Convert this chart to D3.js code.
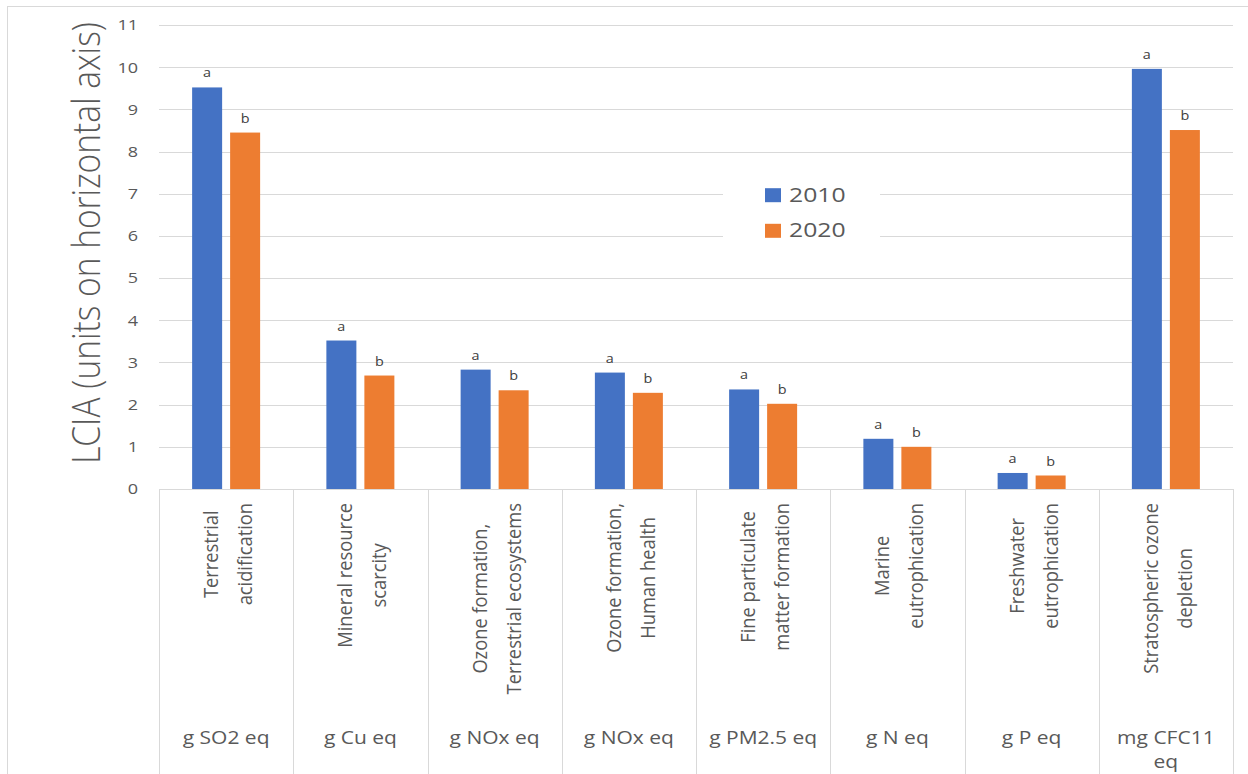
<!DOCTYPE html>
<html>
<head>
<meta charset="utf-8">
<script src="https://cdn.jsdelivr.net/npm/d3@7"></script>
<style>
  html, body { margin: 0; padding: 0; background: #fff; }
  svg { display: block; }
</style>
</head>
<body>
<svg id="chart" width="1248" height="774"></svg>
<script>
// Impact categories (two-line labels) and their reference units
const categories = [
  ["Terrestrial", "acidification"],
  ["Mineral resource", "scarcity"],
  ["Ozone formation,", "Terrestrial ecosystems"],
  ["Ozone formation,", "Human health"],
  ["Fine particulate", "matter formation"],
  ["Marine", "eutrophication"],
  ["Freshwater", "eutrophication"],
  ["Stratospheric ozone", "depletion"]
];
const units = ["g SO2 eq", "g Cu eq", "g NOx eq", "g NOx eq", "g PM2.5 eq", "g N eq", "g P eq", "mg CFC11 eq"];

const seriesNames = ["2010", "2020"];
const values2010 = [9.52, 3.52, 2.83, 2.76, 2.36, 1.19, 0.38, 9.96];
const values2020 = [8.45, 2.69, 2.34, 2.28, 2.02, 1.00, 0.32, 8.51];
const letters2010 = ["a", "a", "a", "a", "a", "a", "a", "a"];
const letters2020 = ["b", "b", "b", "b", "b", "b", "b", "b"];
const seriesColors = ["#4472C4", "#ED7D31"];

const yMax = 11;
const yTitle = "LCIA (units on horizontal axis)";

// ---- layout ----
const W = 1248, H = 774;
const plot = { left: 159, right: 1233, top: 25, bottom: 489 };
const font = "'Open Sans', 'Noto Sans', 'DejaVu Sans', sans-serif";
const textColor = "#595959";
const gridColor = "#d9d9d9";

const svg = d3.select("#chart");

// outer chart frame (continues past the visible edges)
svg.append("rect")
  .attr("x", 7.5).attr("y", 6.5)
  .attr("width", W + 20).attr("height", H + 20)
  .attr("fill", "#fff").attr("stroke", gridColor);

const x = d3.scaleBand()
  .domain(d3.range(categories.length))
  .range([plot.left, plot.right])
  .paddingInner(0).paddingOuter(0);

const barW = 30, barGap = 8;
const step = barW + barGap;
const innerPad = barGap / step;
const outerPad = (x.bandwidth() / step - 2 + innerPad) / 2;
const xs = d3.scaleBand()
  .domain(seriesNames)
  .range([0, x.bandwidth()])
  .paddingInner(innerPad).paddingOuter(outerPad);

const y = d3.scaleLinear().domain([0, yMax]).range([plot.bottom, plot.top]);

// horizontal gridlines
svg.append("g").selectAll("line")
  .data(y.ticks(yMax))
  .join("line")
  .attr("x1", plot.left).attr("x2", plot.right)
  .attr("y1", d => Math.round(y(d)) + 0.5).attr("y2", d => Math.round(y(d)) + 0.5)
  .attr("stroke", gridColor).attr("stroke-width", 1);

// vertical separators of the category table below the axis
svg.append("g").selectAll("line")
  .data(d3.range(categories.length + 1))
  .join("line")
  .attr("x1", i => Math.round(plot.left + i * x.bandwidth()) + 0.5)
  .attr("x2", i => Math.round(plot.left + i * x.bandwidth()) + 0.5)
  .attr("y1", plot.bottom).attr("y2", H + 10)
  .attr("stroke", gridColor).attr("stroke-width", 1);

// y tick labels
const sxH = 1.2;
svg.append("g").selectAll("text")
  .data(y.ticks(yMax))
  .join("text")
  .attr("transform", d => `translate(138,${y(d)}) scale(${sxH},1)`)
  .attr("dy", "0.36em")
  .attr("text-anchor", "end")
  .attr("font-family", font).attr("font-size", 15)
  .attr("fill", textColor)
  .text(d => d);

// y axis title
svg.append("text")
  .attr("transform", `translate(100,243) rotate(-90) scale(1,1.17)`)
  .attr("text-anchor", "middle")
  .attr("font-family", font).attr("font-size", 33.5).attr("font-weight", 300)
  .attr("fill", textColor)
  .text(yTitle);

// bars + significance letters
const rows = categories.map((c, i) => ({
  i,
  vals: [
    { s: seriesNames[0], v: values2010[i], letter: letters2010[i], color: seriesColors[0] },
    { s: seriesNames[1], v: values2020[i], letter: letters2020[i], color: seriesColors[1] }
  ]
}));

const groups = svg.append("g").selectAll("g")
  .data(rows)
  .join("g")
  .attr("transform", d => `translate(${x(d.i)},0)`);

groups.selectAll("rect")
  .data(d => d.vals)
  .join("rect")
  .attr("x", d => xs(d.s))
  .attr("width", xs.bandwidth())
  .attr("y", d => y(d.v))
  .attr("height", d => y(0) - y(d.v))
  .attr("fill", d => d.color);

groups.selectAll("text")
  .data(d => d.vals)
  .join("text")
  .attr("transform", d => `translate(${xs(d.s) + xs.bandwidth() / 2},${y(d.v) - 10}) scale(${sxH},1)`)
  .attr("text-anchor", "middle")
  .attr("font-family", font).attr("font-size", 12)
  .attr("fill", "#404040")
  .text(d => d.letter);

// category labels (rotated, two lines, top-aligned under the axis)
const catSx = 1.1;
categories.forEach((lines, i) => {
  const cx = x(i) + x.bandwidth() / 2;
  const g = svg.append("g");
  const texts = lines.map(line => g.append("text")
    .attr("text-anchor", "middle")
    .attr("font-family", font).attr("font-size", 18.3)
    .attr("fill", textColor)
    .text(line));
  const maxLen = d3.max(texts, t => t.node().getComputedTextLength());
  const cy = 503 + maxLen / 2;
  texts.forEach((t, j) => {
    t.attr("transform", `translate(${cx - 8 + j * 34},${cy}) rotate(-90) scale(1,${catSx})`);
  });
});

// unit labels, wrapped to the category width
const unitSize = 17.5, unitMax = 122;
units.forEach((u, i) => {
  const cx = x(i) + x.bandwidth() / 2;
  const words = u.split(" ");
  const probe = svg.append("text")
    .attr("font-family", font).attr("font-size", unitSize);
  const lines = [];
  let cur = "";
  words.forEach(w => {
    const test = cur ? cur + " " + w : w;
    probe.text(test);
    if (cur && probe.node().getComputedTextLength() * sxH > unitMax) {
      lines.push(cur);
      cur = w;
    } else {
      cur = test;
    }
  });
  lines.push(cur);
  probe.remove();
  lines.forEach((line, j) => {
    svg.append("text")
      .attr("transform", `translate(${cx},${744 + j * 24}) scale(${sxH},1)`)
      .attr("text-anchor", "middle")
      .attr("font-family", font).attr("font-size", unitSize)
      .attr("fill", textColor)
      .text(line);
  });
});

// legend
const legend = svg.append("g");
legend.append("rect")
  .attr("x", 723).attr("y", 172).attr("width", 157).attr("height", 78)
  .attr("fill", "#fff");
seriesNames.forEach((s, j) => {
  const base = 201.7 + j * 35.6;
  legend.append("rect")
    .attr("x", 765).attr("y", base - 13.5)
    .attr("width", 16).attr("height", 14)
    .attr("fill", seriesColors[j]);
  legend.append("text")
    .attr("transform", `translate(789,${base}) scale(1.19,1)`)
    .attr("font-family", font).attr("font-size", 20.8)
    .attr("fill", textColor)
    .text(s);
});
</script>
</body>
</html>
